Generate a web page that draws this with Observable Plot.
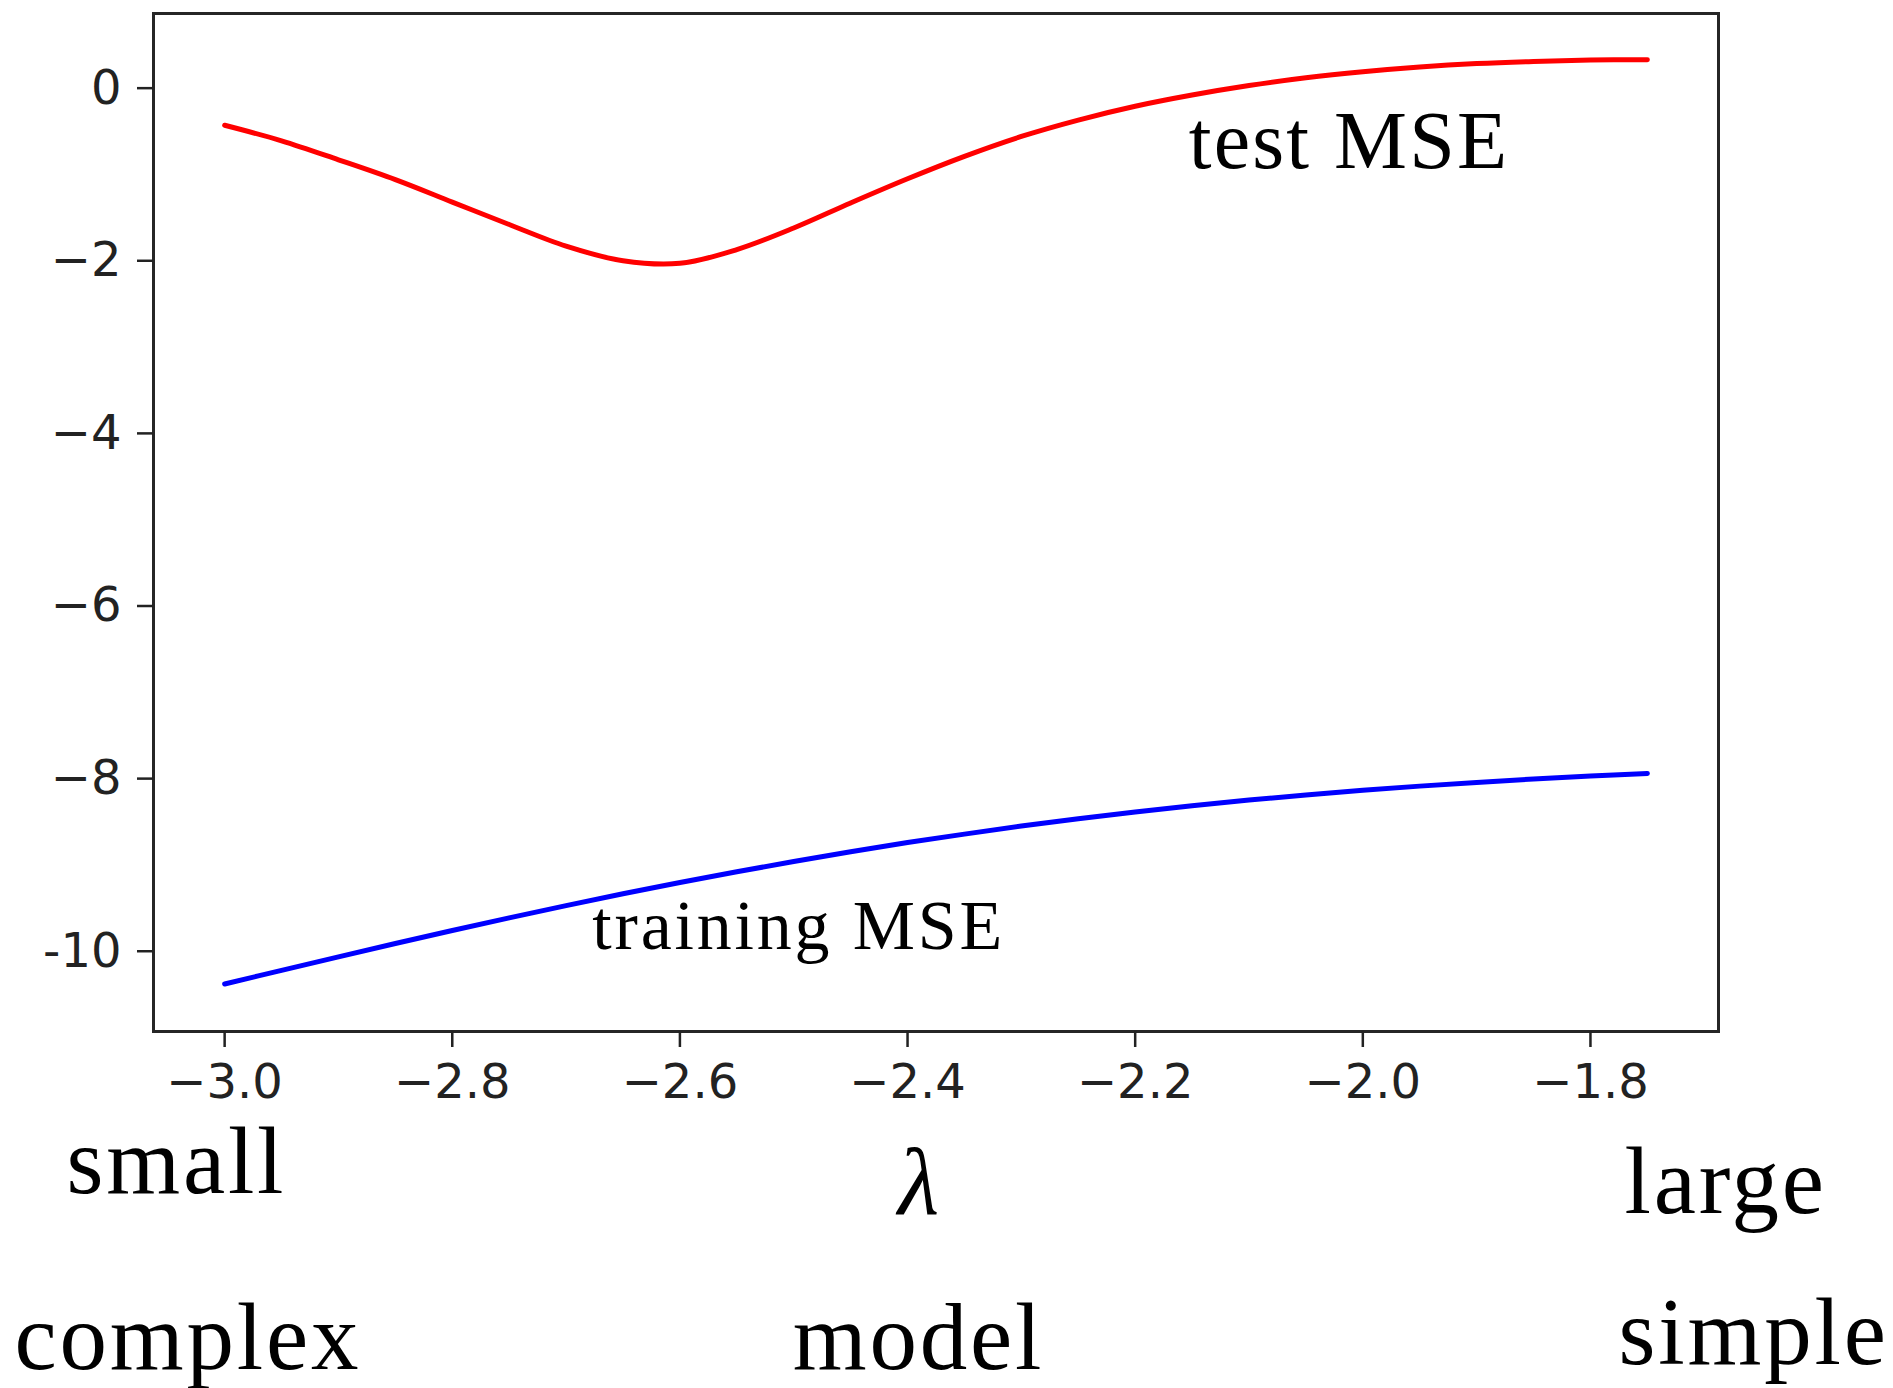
<!DOCTYPE html>
<html>
<head>
<meta charset="utf-8">
<script src="https://cdn.jsdelivr.net/npm/d3@7"></script>
<script src="https://cdn.jsdelivr.net/npm/@observablehq/plot@0.6"></script>
<style>
  html, body { margin: 0; padding: 0; background: #fff; }
  #chart svg { display: block; }
</style>
</head>
<body>
<div id="chart"></div>
<script>
// ---- data ----
const lambdaLog = [-3.00, -2.95, -2.90, -2.85, -2.80, -2.75, -2.70, -2.65, -2.60, -2.55, -2.50, -2.45, -2.40,
                   -2.35, -2.30, -2.25, -2.20, -2.15, -2.10, -2.05, -2.00, -1.95, -1.90, -1.85, -1.80, -1.75];
const testMSE  = [-0.43, -0.61, -0.83, -1.06, -1.32, -1.58, -1.83, -2.00, -2.03, -1.87, -1.62, -1.33, -1.05,
                  -0.79, -0.56, -0.37, -0.21, -0.08, 0.03, 0.12, 0.19, 0.245, 0.285, 0.31, 0.325, 0.33];
const trainMSE = [-10.380, -10.221, -10.065, -9.911, -9.760, -9.613, -9.471, -9.334, -9.204, -9.079, -8.960, -8.847, -8.741,
                  -8.643, -8.550, -8.465, -8.386, -8.314, -8.249, -8.189, -8.135, -8.087, -8.044, -8.005, -7.971, -7.940];

const xTicks = [-3.0, -2.8, -2.6, -2.4, -2.2, -2.0, -1.8];
const xTickLabels = ["\u22123.0", "\u22122.8", "\u22122.6", "\u22122.4", "\u22122.2", "\u22122.0", "\u22121.8"];
const yTicks = [0, -2, -4, -6, -8, -10];
const yTickLabels = ["0", "\u22122", "\u22124", "\u22126", "\u22128", "-10"];

const curveLabels = ["test MSE", "training MSE"];
const curveLabelX = [-2.153, -2.677];
const curveLabelY = [-0.93, -9.97];

const scaleWords = ["small", "\u03bb", "large"];
const modelWords = ["complex", "model", "simple"];

// ---- layout ----
const W = 1893, H = 1388;
const mL = 153, mR = 175, mT = 13, mB = 357;
const serif = "'Liberation Serif', 'Times New Roman', serif";

const data = lambdaLog.map((x, i) => ({x, test: testMSE[i], train: trainMSE[i]}));

function word(text, px, py, anchor, extra = {}) {
  return Plot.text([text], {
    frameAnchor: "top-left",
    dx: px - mL, dy: py - mT,
    text: d => d,
    textAnchor: anchor,
    lineAnchor: "bottom",
    fontFamily: serif,
    fontSize: 95,
    fill: "#000",
    ...extra
  });
}

const chart = Plot.plot({
  width: W,
  height: H,
  marginLeft: mL,
  marginRight: mR,
  marginTop: mT,
  marginBottom: mB,
  style: {fontFamily: "'DejaVu Sans', sans-serif", fontSize: "48px", color: "#222", background: "#fff", overflow: "visible"},
  x: {domain: [-3.0625, -1.6875]},
  y: {domain: [-10.93, 0.865]},
  marks: [
    Plot.line(data, {x: "x", y: "test", stroke: "#ff0000", strokeWidth: 5, curve: "catmull-rom"}),
    Plot.line(data, {x: "x", y: "train", stroke: "#0000ff", strokeWidth: 5, curve: "catmull-rom"}),
    Plot.frame({stroke: "#262626", strokeWidth: 3}),
    Plot.axisX({ticks: xTicks, tickFormat: d => xTickLabels[xTicks.indexOf(d)], tickSize: 16, tickPadding: 16,
                strokeWidth: 2.5, label: null, fontSize: 48, fill: "#222"}),
    Plot.axisY({ticks: yTicks, tickFormat: d => yTickLabels[yTicks.indexOf(d)], tickSize: 16, tickPadding: 16,
                strokeWidth: 2.5, label: null, fontSize: 48, fill: "#222"}),
    Plot.text([curveLabels[0]], {x: () => curveLabelX[0], y: () => curveLabelY[0], text: d => d,
                textAnchor: "start", lineAnchor: "bottom", fontFamily: serif, fontSize: 82, fill: "#000"}),
    Plot.text([curveLabels[1]], {x: () => curveLabelX[1], y: () => curveLabelY[1], text: d => d,
                textAnchor: "start", lineAnchor: "bottom", fontFamily: serif, fontSize: 70, fill: "#000"}),
    word(scaleWords[0], 66, 1192, "start"),
    word(scaleWords[1], 918, 1213, "middle", {fontStyle: "italic"}),
    word(scaleWords[2], 1624, 1212, "start"),
    word(modelWords[0], 14, 1368, "start"),
    word(modelWords[1], 918, 1368, "middle"),
    word(modelWords[2], 1618, 1363, "start")
  ]
});

// widen the serif labels a little (Computer Modern is wider than Times)
const spacing = new Map([
  ...scaleWords.map(w => [w, 2.8]),
  ...modelWords.map(w => [w, 2.8]),
  [curveLabels[0], 2.2],
  [curveLabels[1], 2.8]
]);
chart.querySelectorAll("text").forEach(t => {
  const s = spacing.get(t.textContent);
  if (s !== undefined && t.textContent !== "\u03bb") t.style.letterSpacing = s + "px";
});
document.getElementById("chart").appendChild(chart);
</script>
</body>
</html>
